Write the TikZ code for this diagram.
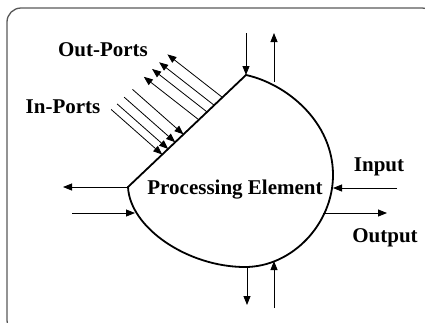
\documentclass[tikz,border=0pt]{standalone}
\usepackage{fontspec}
\setmainfont{Liberation Serif}
\usetikzlibrary{arrows.meta, calc}

\tikzset{
  port/.style={-{Triangle[length=9pt,width=7pt]}, line width=0.8pt},
  lbl/.style={font=\fontsize{21}{24}\selectfont\bfseries, inner sep=0pt},
}

\begin{document}
\begin{tikzpicture}[x=1pt, y=-1pt]
  \clip (0,0) rectangle (425,322);

  % Frame
  \draw[black!65, line width=1.3pt, rounded corners=14pt] (7,8) rectangle (436,334);

  % Element outline
  \coordinate (tv) at (246,75);
  \coordinate (lv) at (128,187);
  \draw[line width=1.8pt, line join=miter]
       (lv) -- (tv)
       .. controls (287,84) and (333,122) .. (333,175)
       .. controls (333,224) and (292,267) .. (245,267)
       .. controls (188,267) and (130,228) .. (lv) -- cycle;

  % Attach points
  \coordinate (topout) at (274,82);
  \coordinate (leftin) at (135,213);
  \coordinate (rin)    at (333,188);
  \coordinate (rout)   at (323,213);
  \coordinate (bout)   at (247,267);
  \coordinate (bin)    at (274,261);

  % Free ends
  \coordinate (topsrc)  at (246,33);
  \coordinate (topdst)  at (274,33);
  \coordinate (leftsrc) at (72,213);
  \coordinate (leftdst) at (63,187);
  \coordinate (rsrc)    at (397,188);
  \coordinate (rdst)    at (387,213);
  \coordinate (bdst)    at (247,305);
  \coordinate (bsrc)    at (274,308);

  % Side arrows
  \draw[port] (topsrc) -- (tv);
  \draw[port] (topout) -- (topdst);
  \draw[port] (lv) -- (leftdst);
  \draw[port] (leftsrc) -- (leftin);
  \draw[port] (rsrc) -- (rin);
  \draw[port] (rout) -- (rdst);
  \draw[port] (bout) -- (bdst);
  \draw[port] (bsrc) -- (bin);

  % Out-ports
  \foreach \t in {0.60,0.67,0.73,0.80}
    \draw[port] ($(lv)!\t!(tv)$) -- ++(-55,-43);

  % In-ports
  \foreach \t in {0.29,0.34,0.40,0.47}
    \draw[port] ($(lv)!\t!(tv)+(-51,-45)$) -- ($(lv)!\t!(tv)$);

  % Labels
  \node[lbl] (outlbl) at (103,50)  {Out-Ports};
  \node[lbl] (inlbl)  at (63,107)  {In-Ports};
  \node[lbl] (pe)     at (235,190) {Processing Element};
  \node[lbl] (inp)    at (379,167) {Input};
  \node[lbl] (outp)   at (385,238) {Output};
\end{tikzpicture}
\end{document}
